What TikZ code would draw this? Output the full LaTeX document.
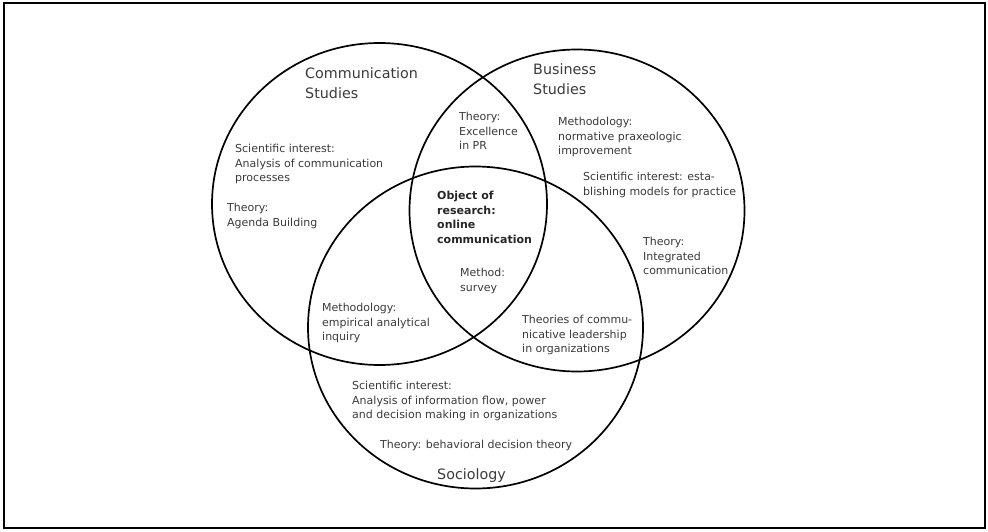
\documentclass[tikz,border=0pt]{standalone}
\usepackage{fontspec}
\setmainfont{DejaVu Sans}
\definecolor{txtgray}{HTML}{3A3A3A}
\begin{document}
\begin{tikzpicture}[x=1pt,y=-1pt,
  venn/.style={draw=black, line width=1.7pt},
  label/.style={anchor=north west, inner sep=0pt, align=left, text=txtgray,
    font=\fontsize{11}{14.7}\selectfont},
  heading/.style={anchor=north west, inner sep=0pt, align=left, text=txtgray,
    font=\fontsize{14.3}{20}\selectfont},
  core/.style={label, text=black!85, font=\fontsize{11}{14.7}\selectfont\bfseries}]
  \useasboundingbox (0,0) rectangle (988,532);
  % outer frame
  \draw[line width=1.5pt] (4,3) rectangle (985,528);

  % the three fields
  \draw[venn] (379.5,204) ellipse [x radius=167.5pt, y radius=161pt];
  \draw[venn] (577,210.5) ellipse [x radius=167.5pt, y radius=161pt];
  \draw[venn] (475.5,327.5) ellipse [x radius=167.5pt, y radius=161pt];

  % field names
  \node[heading] (comm) at (305,64) {\strut Communication\\Studies};
  \node[heading] (bus) at (533,60) {\strut Business\\Studies};
  \node[heading] (soc) at (437,465) {\strut Sociology};

  % communication studies
  \node[label] (csint) at (235,142) {\strut Scientific interest:\\Analysis of communication\\processes};
  \node[label] (csth) at (227,201) {\strut Theory:\\Agenda Building};

  % business studies
  \node[label] (bsmeth) at (558,115) {\strut Methodology:\\normative praxeologic\\improvement};
  \node[label] (bsint) at (583,170) {\strut Scientific interest: esta-\\blishing models for practice};
  \node[label] (bsth) at (643,235) {\strut Theory:\\Integrated\\communication};

  % overlaps
  \node[label] (cbth) at (459,110) {\strut Theory:\\Excellence\\in PR};
  \node[label] (csmeth) at (322,301) {\strut Methodology:\\empirical analytical\\inquiry};
  \node[label] (bsth2) at (522,313) {\strut Theories of commu-\\nicative leadership\\in organizations};

  % centre
  \node[core] (obj) at (437,189) {\strut Object of\\research:\\online\\communication};
  \node[label] (meth) at (460,266) {\strut Method:\\survey};

  % sociology
  \node[label] (socint) at (352,379) {\strut Scientific interest:\\Analysis of information flow, power\\and decision making in organizations};
  \node[label] (socth) at (380,438) {\strut Theory: behavioral decision theory};
\end{tikzpicture}
\end{document}
